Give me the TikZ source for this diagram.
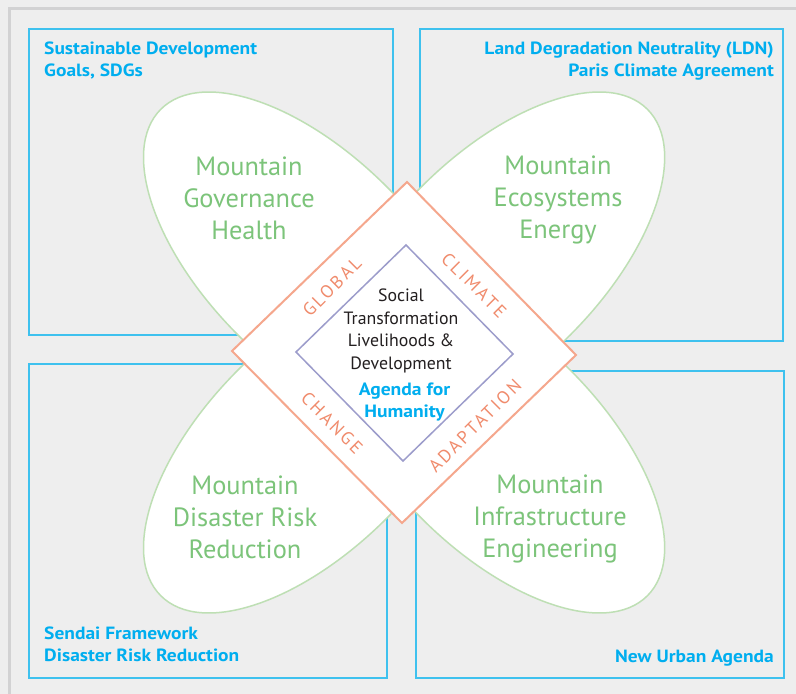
\documentclass[tikz,border=0pt]{standalone}
\usepackage{fontspec}
\setmainfont{PT Sans}
\newfontfamily\widesans[FakeStretch=1.1]{PT Sans}
\definecolor{bgcolor}{HTML}{EEEEEE}
\definecolor{framegray}{HTML}{D2D2D3}
\definecolor{boxblue}{HTML}{3EC1EE}
\definecolor{cyantext}{HTML}{00AEEF}
\definecolor{petalgreen}{HTML}{BEDFB4}
\definecolor{themegreen}{HTML}{7CC47A}
\definecolor{ringline}{HTML}{F5A78D}
\definecolor{ringtext}{HTML}{F08B6C}
\definecolor{innerline}{HTML}{9C9CCB}
\definecolor{coretext}{HTML}{231F20}
\begin{document}
\begin{tikzpicture}[x=1pt,y=-1pt,
  box/.style={draw=boxblue, line width=2pt},
  petal/.style={draw=petalgreen, fill=white, line width=1.5pt},
  boxlabel/.style={text=cyantext, font=\widesans\bfseries\fontsize{17.7}{22}\selectfont, inner sep=0pt},
  theme/.style={text=themegreen, font=\fontsize{26.4}{32}\selectfont, align=center, inner sep=0pt},
  ringlabel/.style={text=ringtext, font=\addfontfeatures{LetterSpace=14}\fontsize{18}{20}\selectfont, inner sep=0pt},
  outerdia/.style={draw=ringline, fill=white, line width=2pt, line join=miter},
  innerdia/.style={draw=innerline, line width=1.5pt, line join=miter},
  core/.style={text=coretext, font=\fontsize{17.8}{22.4}\selectfont, align=center, inner sep=0pt},
  agenda/.style={text=cyantext, font=\widesans\bfseries\fontsize{17.8}{22}\selectfont, align=center, inner sep=0pt}
]
\useasboundingbox (0,0) rectangle (796,694);
\fill[bgcolor] (0,0) rectangle (796,694);
\draw[framegray, line width=3pt] (9,694) -- (9,8.5) -- (796,8.5);

% framework boxes
\draw[box] (29,29) rectangle (393,335);
\draw[box] (420,29) rectangle (783,341);
\draw[box] (29,364) rectangle (387,678);
\draw[box] (416,371) rectangle (784,678);

\node[boxlabel, anchor=north west, align=left] (sdg) at (44,42) {Sustainable Development\\Goals, SDGs};
\node[boxlabel, anchor=north east, align=right] (ldn) at (774,42) {Land Degradation Neutrality (LDN)\\Paris Climate Agreement};
\node[boxlabel, anchor=north west, align=left] (sendai) at (44,627) {Sendai Framework\\Disaster Risk Reduction};
\node[boxlabel, anchor=north east] (nua) at (774,650) {New Urban Agenda};

% petals
\draw[petal, rotate around={-45:(312.1,260.6)}] (312.1,260.6) ellipse [x radius=214, y radius=105];
\draw[petal, rotate around={45:(496.1,260.6)}] (496.1,260.6) ellipse [x radius=214, y radius=105];
\draw[petal, rotate around={45:(312.1,444.4)}] (312.1,444.4) ellipse [x radius=214, y radius=105];
\draw[petal, rotate around={-45:(496.1,444.4)}] (496.1,444.4) ellipse [x radius=214, y radius=105];

\node[theme] (gov) at (249,198) {Mountain\\Governance\\Health};
\node[theme] (eco) at (558,200) {Mountain\\Ecosystems\\Energy};
\node[theme] (drr) at (245,517) {Mountain\\Disaster Risk\\Reduction};
\node[theme] (inf) at (550,519) {Mountain\\Infrastructure\\Engineering};

% diamonds
\draw[outerdia] (407,182) -- (576,355) -- (402,523) -- (232,351) -- cycle;
\draw[innerdia] (406,245) -- (513,354) -- (403,461) -- (296,352) -- cycle;

\node[ringlabel, rotate=45] (global) at (332,287) {GLOBAL};
\node[ringlabel, rotate=-45] (climate) at (474,285) {CLIMATE};
\node[ringlabel, rotate=-45] (change) at (332,423) {CHANGE};
\node[ringlabel, rotate=45] (adapt) at (475,426) {ADAPTATION};

\node[core] (social) at (401,331) {Social\\Transformation\\Livelihoods \&\\Development};
\node[agenda] (humanity) at (404.5,402) {Agenda for\\Humanity};
\end{tikzpicture}
\end{document}
